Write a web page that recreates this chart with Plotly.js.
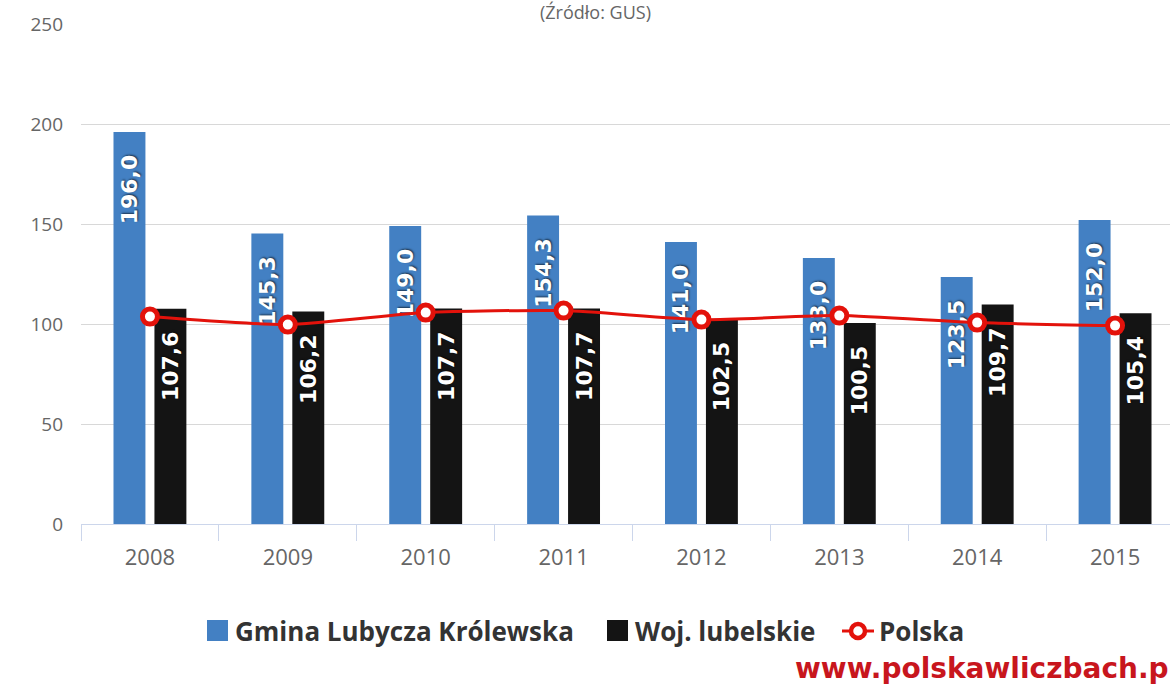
<!DOCTYPE html>
<html>
<head>
<meta charset="utf-8">
<script src="https://cdn.plot.ly/plotly-3.0.1.min.js"></script>
<style>
html,body{margin:0;padding:0;overflow:hidden;background:#fff;}
#chart{width:1184px;height:686px;}
</style>
</head>
<body>
<div id="chart"></div>
<script>
const years = ['2008','2009','2010','2011','2012','2013','2014','2015'];
const gmina = [196.0,145.3,149.0,154.3,141.0,133.0,123.5,152.0];
const woj = [107.6,106.2,107.7,107.7,102.5,100.5,109.7,105.4];
const polska = [103.7,99.7,105.7,106.7,102.2,104.2,100.7,99.2];
const yTicks = [0,50,100,150,200,250];
const seriesNames = ['Gmina Lubycza Królewska','Woj. lubelskie','Polska'];
const colors = {gmina:'#4380c3', woj:'#141414', polska:'#e3120b'};

const W = 1184, H = 686, ML = 81, MT = 24, MB = 162;
const PW = W - ML, PH = H - MT - MB;
const px = x => (x - ML) / PW;        // pixel -> paper (x)
const py = y => (H - MB - y) / PH;    // pixel -> paper (y)

const fmt = v => v.toFixed(1).replace('.', ',') + '\u00a0\u00a0\u2009';

const labelFont = {family:'DejaVu Sans', size:22, color:'#ffffff', weight:'bold', shadow:'1px 1px 2px rgba(0,0,0,0.6)'};

const traces = [
  {type:'bar', name:seriesNames[0], x:years, y:gmina,
   text:gmina.map(fmt), textposition:'inside', insidetextanchor:'end', textangle:-90,
   constraintext:'none', textfont:labelFont,
   marker:{color:colors.gmina}, hoverinfo:'y'},
  {type:'bar', name:seriesNames[1], x:years, y:woj,
   text:woj.map(fmt), textposition:'inside', insidetextanchor:'end', textangle:-90,
   constraintext:'none', textfont:labelFont,
   marker:{color:colors.woj}, hoverinfo:'y'},
  {type:'scatter', mode:'lines+markers', name:seriesNames[2], x:years, y:polska,
   line:{color:colors.polska, width:3, shape:'spline', smoothing:0.6},
   marker:{size:15, color:'#ffffff', line:{color:colors.polska, width:5}}, hoverinfo:'y'}
];

const legendFont = {family:'Open Sans', size:26, color:'#333333', weight:'bold'};
const legY = 631;

const layout = {
  width:W, height:H,
  margin:{l:ML, r:0, t:MT, b:MB},
  paper_bgcolor:'#ffffff', plot_bgcolor:'#ffffff',
  barmode:'group', bargap:0.406, bargroupgap:0.22,
  showlegend:false,
  xaxis:{type:'category', range:[-0.5,7.5], showgrid:false, showline:true, linecolor:'#ccd6eb', linewidth:1,
    ticks:'outside', tickson:'boundaries', ticklen:16, tickcolor:'#ccd6eb', tickwidth:1, ticklabelstandoff:14,
    tickfont:{family:'Open Sans', size:22, color:'#666666'}, zeroline:false, fixedrange:true},
  yaxis:{range:[0,250], tickvals:yTicks, showgrid:true, gridcolor:'#d8d8d8', gridwidth:1,
    zeroline:false, showline:false, ticks:'', ticklabelstandoff:17,
    tickfont:{family:'Open Sans', size:19, color:'#666666'}, fixedrange:true},
  shapes:[
    {type:'rect', xref:'paper', yref:'paper', x0:px(207), x1:px(228), y0:py(641), y1:py(620),
     fillcolor:colors.gmina, line:{width:0}},
    {type:'rect', xref:'paper', yref:'paper', x0:px(607), x1:px(628), y0:py(641), y1:py(620),
     fillcolor:colors.woj, line:{width:0}},
    {type:'line', xref:'paper', yref:'paper', x0:px(842), x1:px(874), y0:py(legY), y1:py(legY),
     line:{color:colors.polska, width:3}},
    {type:'circle', xref:'paper', yref:'paper', x0:px(851), x1:px(865), y0:py(legY+7), y1:py(legY-7),
     fillcolor:'#ffffff', line:{color:colors.polska, width:4.5}}
  ],
  annotations:[
    {text:'(Źródło: GUS)', xref:'paper', yref:'paper', x:px(595), y:1.053, xanchor:'center', yanchor:'top',
     showarrow:false, font:{family:'Open Sans', size:18, color:'#666666'}},
    {text:seriesNames[0], xref:'paper', yref:'paper', x:px(233), y:py(legY), xanchor:'left', yanchor:'middle',
     showarrow:false, font:legendFont},
    {text:seriesNames[1], xref:'paper', yref:'paper', x:px(633), y:py(legY), xanchor:'left', yanchor:'middle',
     showarrow:false, font:legendFont},
    {text:seriesNames[2], xref:'paper', yref:'paper', x:px(877), y:py(legY), xanchor:'left', yanchor:'middle',
     showarrow:false, font:legendFont},
    {text:'www.polskawliczbach.pl', xref:'paper', yref:'paper', x:px(1180), y:py(668), xanchor:'right', yanchor:'middle',
     showarrow:false, font:{family:'DejaVu Sans', size:28, color:'#c8161d', weight:'bold'}}
  ]
};

Plotly.newPlot('chart', traces, layout, {displayModeBar:false, staticPlot:true});
</script>
</body>
</html>
